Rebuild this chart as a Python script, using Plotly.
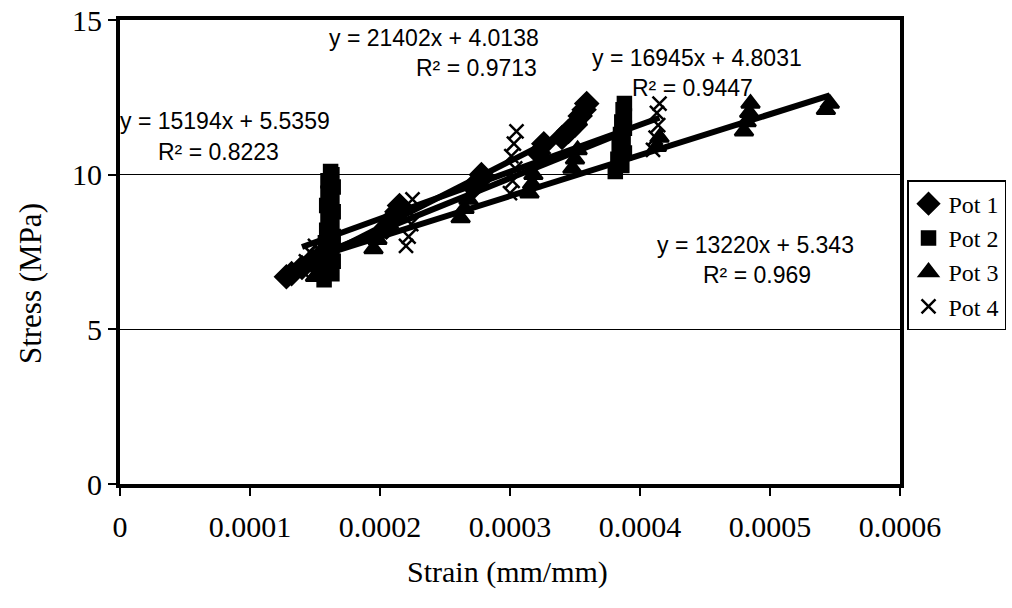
import numpy as np
import plotly.graph_objects as go

# Measured stress/strain readings for each pot
pot1_strain = [0.000128, 0.000132, 0.000140, 0.000148, 0.000155, 0.000160,
               0.000205, 0.000210, 0.000213, 0.000215, 0.000272, 0.000276,
               0.000278, 0.000322, 0.000326, 0.000340, 0.000345, 0.000350,
               0.000354, 0.000357, 0.000359]
pot1_stress = [6.7, 6.8, 7.0, 7.2, 7.4, 7.6, 8.3, 8.6, 8.8, 9.0, 9.6, 9.8,
               10.0, 10.7, 11.0, 11.2, 11.4, 11.6, 11.9, 12.1, 12.3]

pot2_strain = [0.000157, 0.000163, 0.000158, 0.000164, 0.000159, 0.000163,
               0.000158, 0.000164, 0.000159, 0.000163, 0.000160, 0.000164,
               0.000159, 0.000163, 0.000160, 0.000164, 0.000160, 0.000163,
               0.000162, 0.000381, 0.000386, 0.000383, 0.000388, 0.000384,
               0.000387, 0.000385, 0.000388, 0.000386, 0.000388, 0.000387,
               0.000388]
pot2_stress = [6.6, 6.8, 7.0, 7.2, 7.4, 7.6, 7.8, 8.0, 8.2, 8.4, 8.6, 8.8,
               9.0, 9.2, 9.4, 9.6, 9.8, 10.0, 10.1, 10.1, 10.3, 10.5, 10.7,
               10.9, 11.1, 11.3, 11.5, 11.7, 11.9, 12.1, 12.3]

pot3_strain = [0.000150, 0.000155, 0.000160, 0.000195, 0.000198, 0.000200,
               0.000262, 0.000265, 0.000268, 0.000315, 0.000317, 0.000318,
               0.000348, 0.000350, 0.000352, 0.000413, 0.000415, 0.000480,
               0.000482, 0.000484, 0.000485, 0.000543, 0.000546]
pot3_stress = [6.7, 6.9, 7.2, 7.6, 7.9, 8.2, 8.6, 8.9, 9.2, 9.4, 9.7, 10.0,
               10.2, 10.5, 10.8, 10.9, 11.2, 11.4, 11.7, 12.0, 12.3, 12.1,
               12.3]

pot4_strain = [0.000140, 0.000143, 0.000146, 0.000150, 0.000220, 0.000222,
               0.000224, 0.000222, 0.000225, 0.000300, 0.000302, 0.000304,
               0.000301, 0.000303, 0.000305, 0.000410, 0.000412, 0.000414,
               0.000413, 0.000415]
pot4_stress = [6.9, 7.2, 7.5, 7.7, 7.7, 8.0, 8.4, 8.8, 9.2, 9.4, 9.8, 10.2,
               10.6, 11.0, 11.4, 10.8, 11.2, 11.6, 12.0, 12.3]

# Linear trendlines: slope, intercept, R² and fitted strain range
fits = {
    "Pot 1": dict(m=21402, b=4.0138, r2="0.9713", x0=0.000128, x1=0.000359),
    "Pot 2": dict(m=16945, b=4.8031, r2="0.9447", x0=0.000158, x1=0.000388),
    "Pot 3": dict(m=13220, b=5.343, r2="0.969", x0=0.000150, x1=0.000546),
    "Pot 4": dict(m=15194, b=5.5359, r2="0.8223", x0=0.000140, x1=0.000415),
}

series = [
    ("Pot 1", pot1_strain, pot1_stress, "diamond", 17),
    ("Pot 2", pot2_strain, pot2_stress, "square", 13),
    ("Pot 3", pot3_strain, pot3_stress, "triangle-up", 16),
    ("Pot 4", pot4_strain, pot4_stress, "x-thin", 14),
]

fig = go.Figure()

for name, xs, ys, sym, size in series:
    f = fits[name]
    lx = np.array([f["x0"], f["x1"]])
    fig.add_trace(go.Scatter(
        x=lx, y=f["m"] * lx + f["b"], mode="lines",
        line=dict(color="black", width=6), showlegend=False, hoverinfo="skip"))

for name, xs, ys, sym, size in series:
    fig.add_trace(go.Scatter(
        x=xs, y=ys, mode="markers", name=name,
        marker=dict(symbol=sym, size=size, color="black",
                    line=dict(color="black", width=2.5))))

# Trendline equation labels (equation line, then R² line)
label_pos = {
    "Pot 4": [(0.0000808, 11.73), (0.0000754, 10.73)],
    "Pot 1": [(0.0002415, 14.42), (0.0002746, 13.45)],
    "Pot 2": [(0.0004438, 13.77), (0.0004400, 12.80)],
    "Pot 3": [(0.0004885, 7.73), (0.0004900, 6.76)],
}
afont = dict(family="Liberation Sans, Arial", size=23, color="black")
for name, ((ex, ey), (rx, ry)) in label_pos.items():
    f = fits[name]
    eq = f"y = {f['m']}x + {f['b']}"
    fig.add_annotation(x=ex, y=ey, text=eq, showarrow=False, font=afont,
                       xanchor="center", yanchor="middle")
    fig.add_annotation(x=rx, y=ry, text=f"R² = {f['r2']}", showarrow=False,
                       font=afont, xanchor="center", yanchor="middle")

serif = "Liberation Serif, Times New Roman"

# Axis titles
fig.add_annotation(xref="paper", yref="paper", x=-0.1154, y=0.433,
                   text="Stress (MPa)", textangle=-90, showarrow=False,
                   font=dict(family=serif, size=31, color="black"),
                   xanchor="center", yanchor="middle")
fig.add_annotation(xref="paper", yref="paper", x=0.497, y=-0.19,
                   text="Strain (mm/mm)", showarrow=False,
                   font=dict(family=serif, size=30, color="black"),
                   xanchor="center", yanchor="middle")

fig.update_layout(
    width=1012, height=608,
    margin=dict(l=120, r=112, t=20, b=124, autoexpand=False),
    paper_bgcolor="white", plot_bgcolor="white",
    font=dict(family=serif, color="black"),
    legend=dict(x=1.009, y=0.655, xanchor="left", yanchor="top",
                bordercolor="black", borderwidth=1.5,
                font=dict(family=serif, size=24), tracegroupgap=0,
                itemwidth=30),
    xaxis=dict(range=[0, 0.0006], tick0=0,
               tickvals=[0, 0.0001, 0.0002, 0.0003, 0.0004, 0.0005, 0.0006],
               ticktext=["0", "0.0001", "0.0002", "0.0003", "0.0004",
                         "0.0005", "0.0006"],
               showgrid=False, zeroline=False, showline=True, mirror=True,
               linecolor="black", linewidth=4, ticks="outside", ticklen=8,
               tickcolor="black", tickwidth=1.5, ticklabelstandoff=5,
               tickfont=dict(family=serif, size=30)),
    yaxis=dict(range=[0, 15], dtick=5, tick0=0,
               showgrid=True, gridcolor="black", gridwidth=1.2,
               zeroline=False, showline=True, mirror=True,
               linecolor="black", linewidth=4, ticks="outside", ticklen=8,
               tickcolor="black", tickwidth=1.5,
               tickfont=dict(family=serif, size=30)),
)

fig.write_html("out.html")
